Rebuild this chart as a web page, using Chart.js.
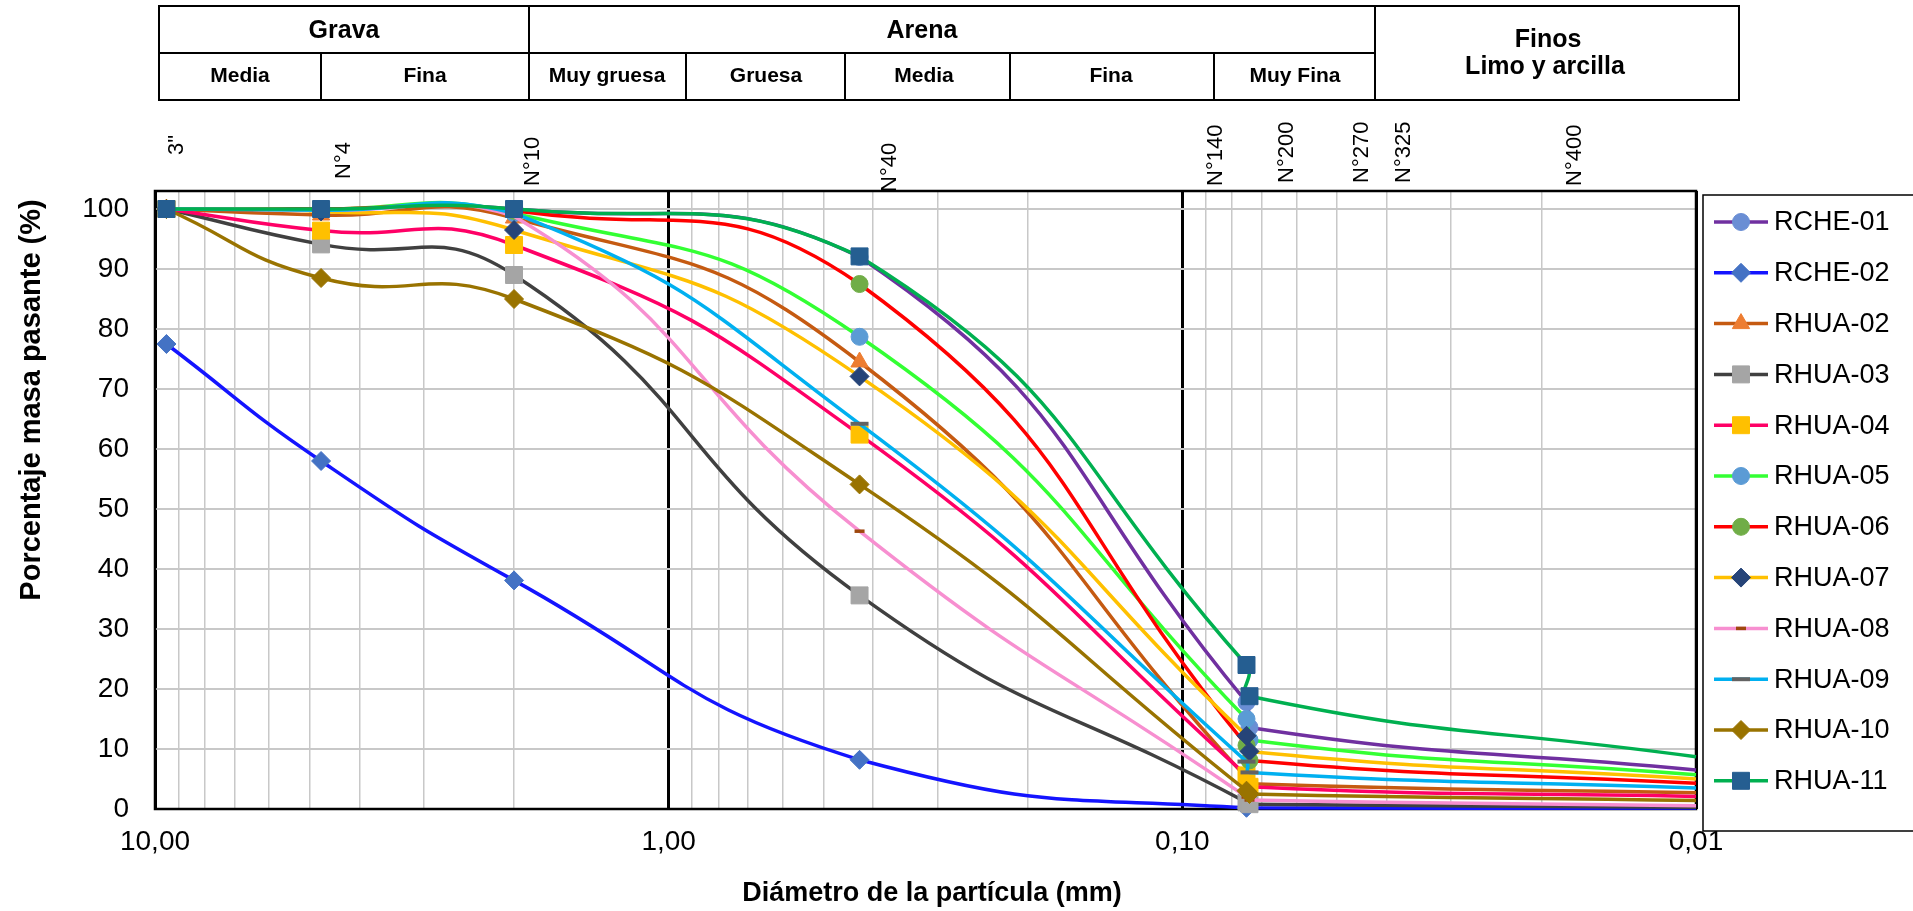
<!DOCTYPE html>
<html>
<head>
<meta charset="utf-8">
<script src="https://cdn.jsdelivr.net/npm/chart.js@4/dist/chart.umd.min.js"></script>
<style>
html,body{margin:0;padding:0;background:#fff;overflow:hidden}
canvas{display:block}
</style>
</head>
<body>
<canvas id="c" width="1913" height="911"></canvas>
<script>
// ---------------- DATA ----------------
const diameters = [9.5, 4.75, 2.0, 0.425, 0.075, 0.074, 0.01];   // mm
const seriesNames = ['RCHE-01','RCHE-02','RHUA-02','RHUA-03','RHUA-04','RHUA-05',
                     'RHUA-06','RHUA-07','RHUA-08','RHUA-09','RHUA-10','RHUA-11'];
const rche01 = [100, 100, 100, 92.0, 17.8, 13.6, 6.5];
const rche02 = [77.5, 58.0, 38.1, 8.2, 0.2, null, 0.15];
const rhua02 = [100, 99.0, 98.5, 74.5, 5.2, 4.2, 2.7];
const rhua03 = [100, 94.1, 89.0, 35.6, 1.1, 0.8, 0.3];
const rhua04 = [100, 96.4, 94.0, 62.4, 5.6, 3.7, 2.1];
const rhua05 = [100, 100, 99.3, 78.7, 15.0, 11.5, 5.7];
const rhua06 = [100, 100, 99.7, 87.5, 10.6, 8.1, 4.3];
const rhua07 = [100, 99.6, 96.5, 72.1, 12.2, 9.6, 5.0];
const rhua08 = [100, 99.8, 98.8, 46.3, 2.0, 1.5, 0.55];
const rhua09 = [100, 99.8, 99.3, 64.2, 7.9, 6.1, 3.5];
const rhua10 = [100, 88.5, 85.0, 54.1, 3.05, 2.5, 1.4];
const rhua11 = [100, 100, 100, 92.1, 24.0, 18.8, 8.7];
const seriesValues = [rche01, rche02, rhua02, rhua03, rhua04, rhua05,
                      rhua06, rhua07, rhua08, rhua09, rhua10, rhua11];

const xTickValues = [10, 1, 0.1, 0.01];
const xTickLabels = ['10,00', '1,00', '0,10', '0,01'];
const yTickValues = [0, 10, 20, 30, 40, 50, 60, 70, 80, 90, 100];
const sieveNames = ['3"', 'N°4', 'N°10', 'N°40', 'N°140', 'N°200', 'N°270', 'N°325', 'N°400'];
const sieveLabelAt = [9.06, 4.28, 1.84, 0.371, 0.0859, 0.0627, 0.0448, 0.0371, 0.0172]; // mm

const xTitle = 'Diámetro de la partícula (mm)';
const yTitle = 'Porcentaje masa pasante (%)';

// ---------------- STYLE ----------------
const FONT = "'Liberation Sans', Arial, Helvetica, sans-serif";
const styles = [
  {line:'#7030a0', mk:'#6a8ed4', ps:'circle',   r:8.5, bw:1},
  {line:'#1414ff', mk:'#4472c4', ps:'rectRot',  r:9.5, bw:1},
  {line:'#c55a11', mk:'#ed7d31', ps:'triangle', r:10,  bw:1},
  {line:'#404040', mk:'#a5a5a5', ps:'rect',     r:12,  bw:1},
  {line:'#ff0066', mk:'#ffc000', ps:'rect',     r:12,  bw:1},
  {line:'#33ff33', mk:'#5b9bd5', ps:'circle',   r:8.5, bw:1},
  {line:'#ff0000', mk:'#70ad47', ps:'circle',   r:8.5, bw:1},
  {line:'#ffc000', mk:'#264478', ps:'rectRot',  r:9.5, bw:1},
  {line:'#f78fd0', mk:'#9e480e', ps:'line',     r:5,   bw:3.5},
  {line:'#00b0f0', mk:'#636363', ps:'line',     r:9,   bw:4},
  {line:'#997300', mk:'#997300', ps:'rectRot',  r:9.5, bw:1},
  {line:'#00b050', mk:'#255e91', ps:'rect',     r:12,  bw:1}
];

const L = {
  yTitleX: 32, yTitleY: 400,
  xTitleX: 932, xTitleY: 894,
  sieveLift: [36, 12, 5, -1, 5, 8, 8, 8, 5],
  legend: {left: 1703, top: 195, bottom: 831, lineX0: 1714, lineX1: 1768, textX: 1774, y0: 222, dy: 50.8}
};

// gridline positions (log decades and their 2..9 multiples)
const gridValues = [];
for (let e = -2; e <= 1; e++) {
  for (let m = 1; m <= 9; m++) {
    const v = +(m * Math.pow(10, e)).toPrecision(6);
    if (v >= 0.01 && v <= 10) gridValues.push(v);
  }
}
const isDecade = v => xTickValues.some(t => Math.abs(v / t - 1) < 1e-6);

const datasets = seriesNames.map((name, i) => {
  const vals = seriesValues[i];
  const pts = [];
  diameters.forEach((d, j) => { if (vals[j] !== null) pts.push({x: d, y: vals[j]}); });
  const st = styles[i];
  return {
    label: name,
    data: pts,
    borderColor: st.line,
    borderWidth: 3.5,
    backgroundColor: st.mk,
    pointBackgroundColor: st.mk,
    pointBorderColor: st.mk,
    pointStyle: st.ps,
    pointRadius: pts.map((p, k) => k === pts.length - 1 ? 0 : st.r),
    pointBorderWidth: st.bw,
    tension: 0.5,
    fill: false,
    clip: false,
    order: seriesNames.length - i
  };
});

const decor = {
  id: 'decor',
  beforeDatasetsDraw(chart) {
    const {ctx, chartArea: a} = chart;
    ctx.save();
    ctx.strokeStyle = '#000';
    ctx.lineWidth = 2.5;
    ctx.strokeRect(a.left, a.top, a.right - a.left, a.bottom - a.top);
    ctx.restore();
  },
  afterDraw(chart) {
    const {ctx, chartArea: a} = chart;
    const xs = chart.scales.x;
    ctx.save();
    ctx.fillStyle = '#000';
    ctx.strokeStyle = '#000';

    // axis titles
    ctx.font = `bold 27px ${FONT}`;
    ctx.textAlign = 'center';
    ctx.textBaseline = 'middle';
    ctx.fillText(xTitle, L.xTitleX, L.xTitleY);
    ctx.save();
    ctx.translate(L.yTitleX, L.yTitleY);
    ctx.rotate(-Math.PI / 2);
    ctx.font = `bold 29px ${FONT}`;
    ctx.fillText(yTitle, 0, 0);
    ctx.restore();

    // sieve labels
    ctx.font = `22px ${FONT}`;
    ctx.textAlign = 'left';
    ctx.textBaseline = 'middle';
    sieveNames.forEach((s, i) => {
      const x = xs.getPixelForValue(sieveLabelAt[i]);
      const y = a.top - L.sieveLift[i];
      ctx.save();
      ctx.translate(x, y);
      ctx.rotate(-Math.PI / 2);
      ctx.fillText(s, 0, 0);
      ctx.restore();
    });

    // header table
    ctx.lineWidth = 2;
    ctx.strokeRect(159, 6, 1739 - 159, 94);
    const line = (x0, y0, x1, y1) => { ctx.beginPath(); ctx.moveTo(x0, y0); ctx.lineTo(x1, y1); ctx.stroke(); };
    line(159, 53, 1375, 53);
    line(529, 6, 529, 100);
    line(1375, 6, 1375, 100);
    [321, 686, 845, 1010, 1214].forEach(x => line(x, 53, x, 100));
    ctx.textAlign = 'center';
    ctx.textBaseline = 'alphabetic';
    ctx.font = `bold 25px ${FONT}`;
    ctx.fillText('Grava', 344, 38);
    ctx.fillText('Arena', 922, 38);
    ctx.fillText('Finos', 1548, 47);
    ctx.fillText('Limo y arcilla', 1545, 74);
    ctx.font = `bold 21px ${FONT}`;
    [['Media', 240], ['Fina', 425], ['Muy gruesa', 607], ['Gruesa', 766],
     ['Media', 924], ['Fina', 1111], ['Muy Fina', 1295]].forEach(([t, x]) => ctx.fillText(t, x, 82));

    // legend
    const lg = L.legend;
    ctx.lineWidth = 1.5;
    ctx.strokeStyle = '#000';
    ctx.strokeRect(lg.left, lg.top, 1920 - lg.left, lg.bottom - lg.top);
    ctx.font = `27px ${FONT}`;
    ctx.textAlign = 'left';
    ctx.textBaseline = 'middle';
    seriesNames.forEach((name, i) => {
      const st = styles[i];
      const y = lg.y0 + i * lg.dy;
      ctx.strokeStyle = st.line;
      ctx.lineWidth = 3.5;
      line(lg.lineX0, y, lg.lineX1, y);
      ctx.fillStyle = st.mk;
      ctx.strokeStyle = st.mk;
      ctx.lineWidth = st.bw;
      Chart.helpers.drawPoint(ctx, {pointStyle: st.ps, radius: st.r, rotation: 0, borderWidth: st.bw},
                              (lg.lineX0 + lg.lineX1) / 2, y);
      ctx.fillStyle = '#000';
      ctx.fillText(name, lg.textX, y + 1);
    });
    ctx.restore();
  }
};

new Chart(document.getElementById('c'), {
  type: 'line',
  data: { datasets },
  plugins: [decor],
  options: {
    responsive: false,
    devicePixelRatio: 1,
    animation: false,
    events: [],
    layout: { padding: { left: 0, top: 191, right: 217, bottom: 0 } },
    plugins: { legend: { display: false }, tooltip: { enabled: false }, title: { display: false } },
    scales: {
      x: {
        type: 'logarithmic',
        reverse: true,
        min: 0.01,
        max: 10,
        afterBuildTicks: s => { s.ticks = gridValues.map(v => ({ value: v })); },
        afterFit: s => { s.height = 102; },
        border: { display: false },
        grid: {
          drawTicks: false,
          color: c => (c.tick && isDecade(c.tick.value)) ? '#000000' : '#c8c8c8',
          lineWidth: c => (c.tick && isDecade(c.tick.value)) ? 3 : 1.5
        },
        ticks: {
          autoSkip: false,
          maxRotation: 0,
          minRotation: 0,
          padding: 16,
          color: '#000',
          font: { family: FONT, size: 28 },
          callback: v => {
            const k = xTickValues.findIndex(t => Math.abs(v / t - 1) < 1e-6);
            return k >= 0 ? xTickLabels[k] : '';
          }
        },
        title: { display: false }
      },
      y: {
        min: 0,
        max: 103,
        afterBuildTicks: s => { s.ticks = yTickValues.map(v => ({ value: v })); },
        afterFit: s => { s.width = 155; },
        border: { display: false },
        grid: { drawTicks: false, color: '#c8c8c8', lineWidth: 2 },
        ticks: { padding: 26, color: '#000', font: { family: FONT, size: 28 } },
        title: { display: false }
      }
    }
  }
});
</script>
</body>
</html>
